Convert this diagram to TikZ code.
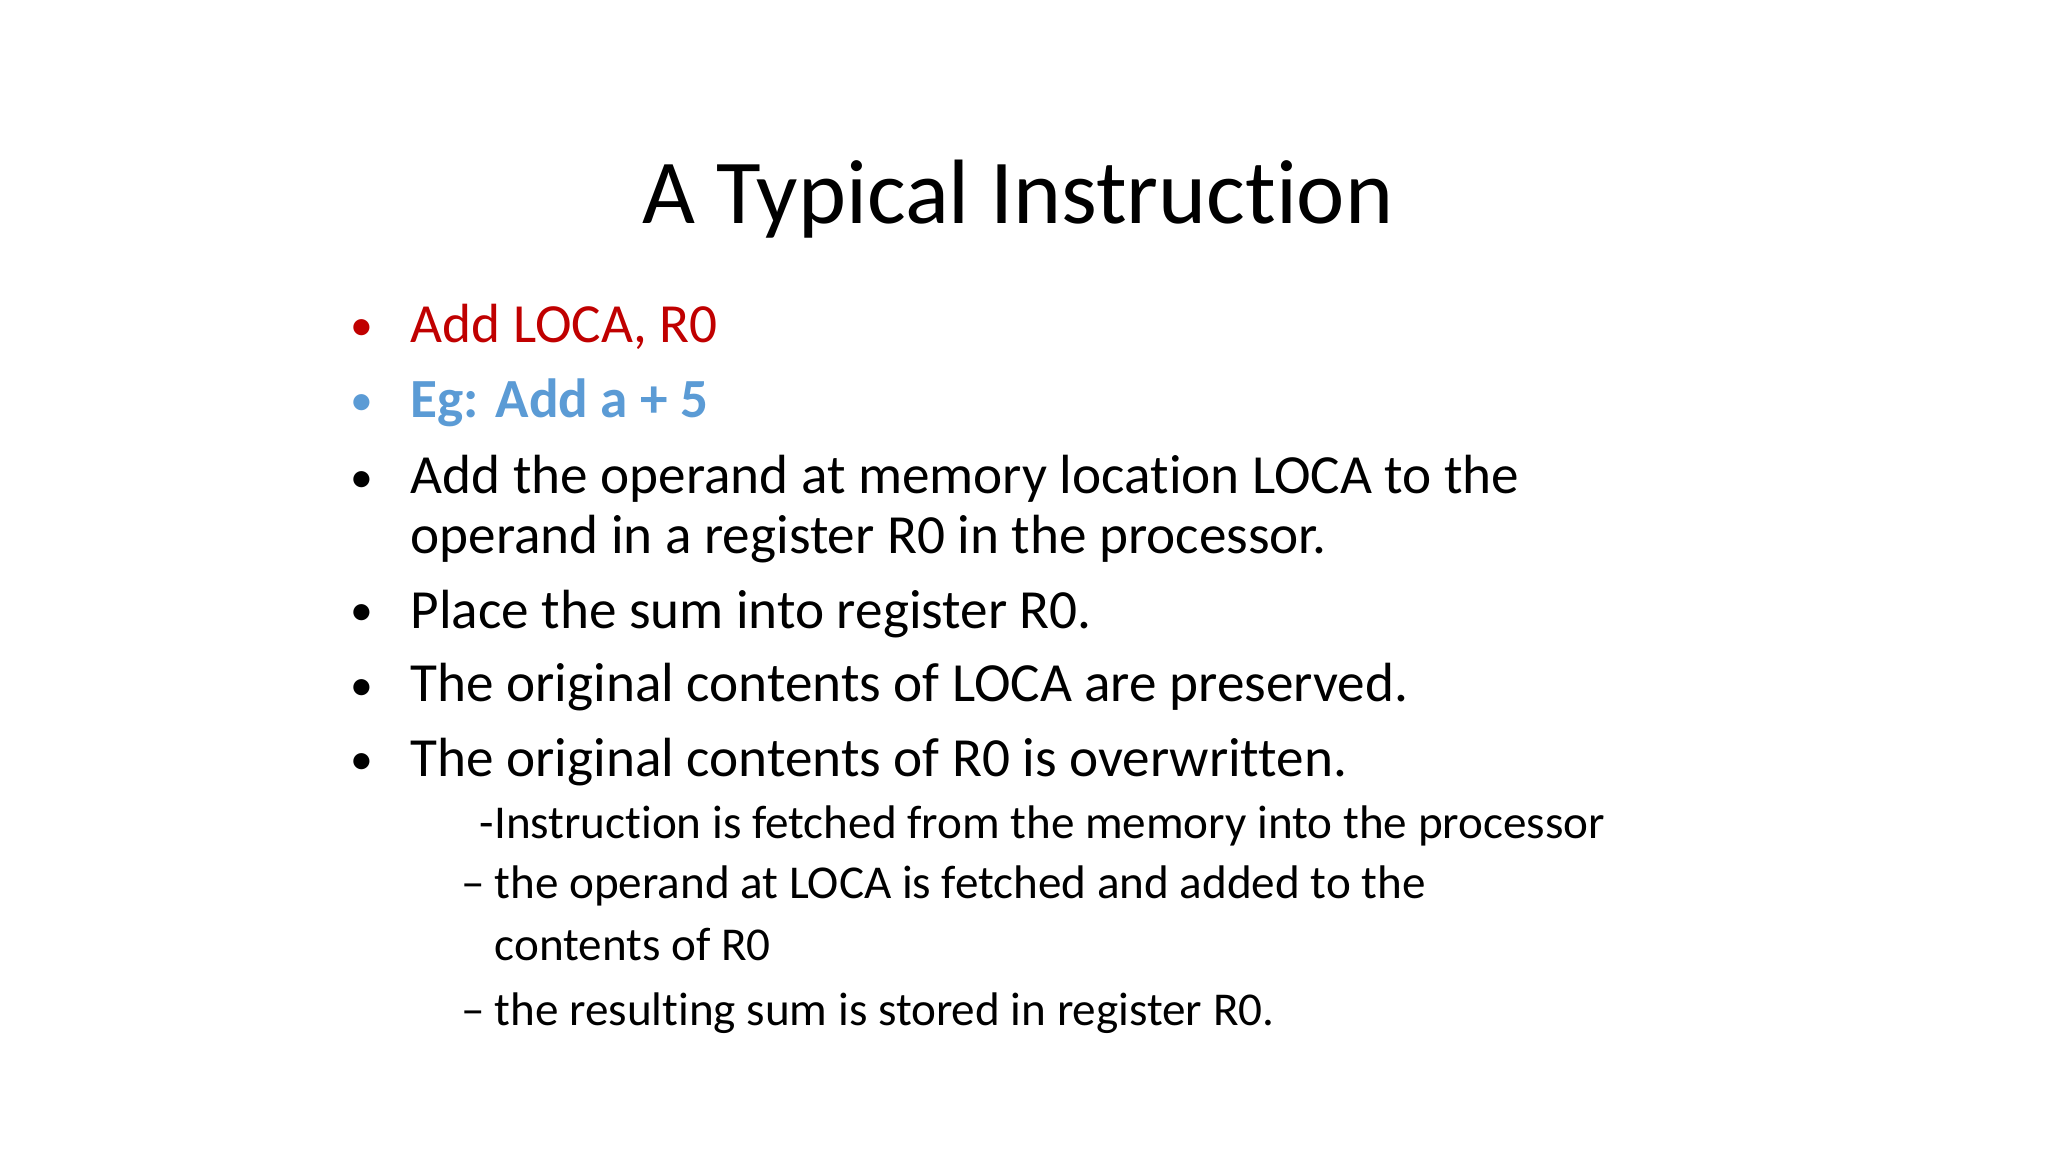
\documentclass[tikz,border=0pt]{standalone}
\usepackage{fontspec}
\setmainfont[Ligatures=NoCommon]{Carlito}
\definecolor{redt}{HTML}{C00000}
\definecolor{bluet}{HTML}{5B9BD5}
\begin{document}
\begin{tikzpicture}[x=0.01cm,y=-0.01cm,
  txt/.style={anchor=base west,inner sep=0,font=\fontsize{15.7pt}{19pt}\selectfont},
  sub/.style={anchor=base west,inner sep=0,font=\fontsize{13.4pt}{16pt}\selectfont},
  bul/.style={anchor=base west,inner sep=0,font=\fontsize{13pt}{16pt}\selectfont}]
\useasboundingbox (0,0) rectangle (2048,1152);
\fill[white] (0,0) rectangle (2048,1152);
\node[anchor=base,inner sep=0,font=\fontsize{26pt}{30pt}\selectfont] (title) at (1018,224) {A Typical Instruction};
\foreach \y/\c [count=\i] in {341/redt,416/bluet,492/black,626/black,700/black,774/black}{
  \node[bul,text=\c] (b\i) at (350,\y) {•};
}
\node[txt,text=redt] (l1) at (410,343) {Add LOCA, R0};
\node[txt,text=bluet,font=\fontsize{15.7pt}{19pt}\selectfont\bfseries] (l2) at (410,418) {Eg: Add a + 5};
\node[txt] (l3) at (410,494) {Add the operand at memory location LOCA to the};
\node[txt] (l3b) at (410,554) {operand in a register R0 in the processor.};
\node[txt] (l4) at (410,628) {Place the sum into register R0.};
\node[txt] (l5) at (410,702) {The original contents of LOCA are preserved.};
\node[txt] (l6) at (410,776) {The original contents of R0 is overwritten.};
\node[sub] (s1) at (479,838) {-Instruction is fetched from the memory into the processor};
\node[sub] (d2) at (461,898) {–};
\node[sub] (s2) at (494,898) {the operand at LOCA is fetched and added to the};
\node[sub] (s2b) at (494,960) {contents of R0};
\node[sub] (d3) at (461,1025) {–};
\node[sub] (s3) at (494,1025) {the resulting sum is stored in register R0.};
\end{tikzpicture}
\end{document}
